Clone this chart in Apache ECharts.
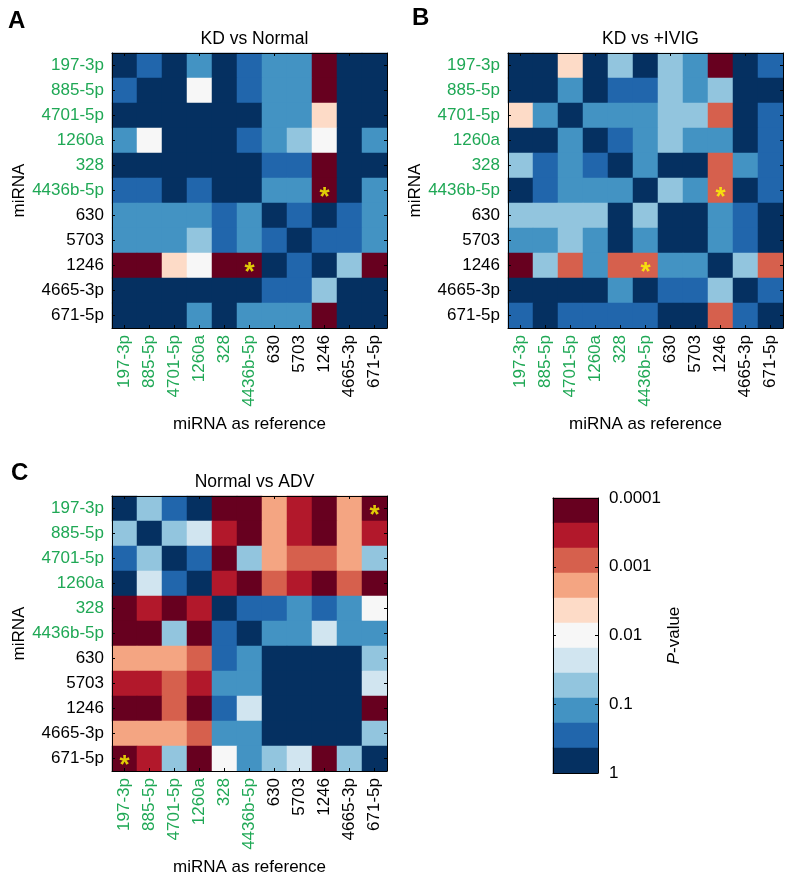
<!DOCTYPE html>
<html>
<head>
<meta charset="utf-8">
<script src="https://cdn.jsdelivr.net/npm/echarts@6/dist/echarts.min.js"></script>
<style>html,body{margin:0;padding:0;background:#fff;}#c{width:787px;height:877px;}</style>
</head>
<body>
<div id="c"></div>
<script>
const mirnas = ['197-3p','885-5p','4701-5p','1260a','328','4436b-5p','630','5703','1246','4665-3p','671-5p'];
const greenCount = 6;
const levelColors = ['#67001f','#b2182b','#d6604d','#f4a582','#fddbc7','#f7f7f7','#d1e5f0','#92c5de','#4393c3','#2166ac','#053061'];
const pTickLabels = ['0.0001','0.001','0.01','0.1','1'];
const panelTitles = ['KD vs Normal','KD vs +IVIG','Normal vs ADV'];
const panelLetters = ['A','B','C'];

// levels 0 (P<=0.0001, dark red) .. 10 (P~1, dark blue); rows = miRNA, cols = reference
const kdNormal = [
  [10,9,10,8,10,9,8,8,0,10,10],
  [9,10,10,5,10,9,8,8,0,10,10],
  [10,10,10,10,10,10,8,8,4,10,10],
  [8,5,10,10,10,9,8,7,5,10,8],
  [10,10,10,10,10,10,9,9,0,10,10],
  [9,9,10,9,10,10,8,8,0,10,8],
  [8,8,8,8,9,8,10,9,10,9,8],
  [8,8,8,7,9,8,9,10,9,9,8],
  [0,0,4,5,0,0,10,9,10,7,0],
  [10,10,10,10,10,10,9,9,7,10,10],
  [10,10,10,8,10,8,8,8,0,10,10]
];
const kdIvig = [
  [10,10,4,10,7,10,7,8,0,10,9],
  [10,10,8,10,9,9,7,8,7,10,10],
  [4,8,10,8,8,8,7,7,2,10,9],
  [10,10,8,10,9,8,7,8,8,10,9],
  [7,9,8,9,10,8,10,10,2,8,9],
  [10,9,8,8,8,10,7,8,2,10,9],
  [7,7,7,7,10,7,10,10,8,9,10],
  [8,8,7,8,10,8,10,10,8,9,10],
  [0,7,2,8,2,2,8,8,10,7,2],
  [10,10,10,10,8,10,9,9,7,10,9],
  [9,10,9,9,9,9,10,10,2,9,10]
];
const normalAdv = [
  [10,7,9,10,0,0,3,1,0,3,0],
  [7,10,7,6,1,0,3,1,0,3,1],
  [9,7,10,9,0,7,3,2,2,3,7],
  [10,6,9,10,1,0,2,1,0,2,0],
  [0,1,0,1,10,9,9,8,9,8,5],
  [0,0,7,0,9,10,8,8,6,8,8],
  [3,3,3,2,9,8,10,10,10,10,7],
  [1,1,2,1,8,8,10,10,10,10,6],
  [0,0,2,0,9,6,10,10,10,10,0],
  [3,3,3,2,8,8,10,10,10,10,7],
  [0,1,7,0,5,8,7,6,0,7,10]
];
// [row, col]
const starsKdNormal = [[5,8],[8,5]];
const starsKdIvig = [[5,8],[8,5]];
const starsNormalAdv = [[0,10],[10,0]];
const colorbarLevels = [0,1,2,3,4,5,6,7,8,9,10];

const FONT = '"Liberation Sans", Arial, Helvetica, sans-serif';
const FS = 17;
const GREEN = '#1fa855';
const matrices = [kdNormal, kdIvig, normalAdv];
const stars = [starsKdNormal, starsKdIvig, starsNormalAdv];
const grids = [
  {left:112, top:53, width:275, height:275},
  {left:508, top:53, width:275, height:275},
  {left:112, top:496, width:275, height:275},
  {left:553, top:498, width:45, height:275}
];
const labelColor = (v, i) => (mirnas.indexOf(v) < greenCount ? GREEN : '#000');

const xAxes = [], yAxes = [], series = [], titles = [];
const tick = {show:true, inside:true, length:3, alignWithLabel:true, lineStyle:{color:'#000', width:1}};
const line = {show:true, onZero:false, lineStyle:{color:'#000', width:1}};

for (let g = 0; g < 3; g++) {
  xAxes.push({gridIndex:g, type:'category', data:mirnas, position:'bottom', z:5,
    axisLine:line, axisTick:tick,
    axisLabel:{rotate:90, margin:7, fontSize:FS, fontFamily:FONT, color:labelColor, interval:0},
    name:'miRNA as reference', nameLocation:'middle', nameGap:88,
    nameTextStyle:{fontSize:FS, fontFamily:FONT, color:'#000'}});
  xAxes.push({gridIndex:g, type:'category', data:mirnas, position:'top', z:5,
    axisLine:line, axisTick:tick, axisLabel:{show:false}});
  yAxes.push({gridIndex:g, type:'category', data:mirnas, inverse:true, position:'left', z:5,
    axisLine:line, axisTick:tick,
    axisLabel:{margin:8, fontSize:FS, fontFamily:FONT, color:labelColor, interval:0},
    name:'miRNA', nameLocation:'middle', nameGap:82,
    nameTextStyle:{fontSize:FS, fontFamily:FONT, color:'#000'}});
  yAxes.push({gridIndex:g, type:'category', data:mirnas, inverse:true, position:'right', z:5,
    axisLine:line, axisTick:tick, axisLabel:{show:false}});

  const m = matrices[g];
  const data = [];
  for (let r = 0; r < m.length; r++) for (let c = 0; c < m[r].length; c++) data.push([c, r, m[r][c]]);
  series.push({type:'heatmap', xAxisIndex:2*g, yAxisIndex:2*g, data:data, z:1,
    itemStyle:{borderWidth:0}, emphasis:{disabled:true}});
  series.push({type:'scatter', xAxisIndex:2*g, yAxisIndex:2*g, z:3,
    data:stars[g].map(s => [s[1], s[0]]), symbolSize:1, itemStyle:{color:'rgba(0,0,0,0)'},
    label:{show:true, position:'inside', formatter:'*', color:'#ffff00', fontSize:26,
      fontWeight:'bold', fontFamily:FONT, offset:[0,7]}});

  const gr = grids[g];
  titles.push({text:panelTitles[g], left:gr.left + gr.width/2, top:gr.top - 28, textAlign:'center',
    textStyle:{fontSize:17.5, fontWeight:'normal', fontFamily:FONT, color:'#000'}});
}
titles.push({text:'A', left:3, top:4, textStyle:{fontSize:24, fontWeight:'bold', fontFamily:FONT, color:'#000'}});
titles.push({text:'B', left:407, top:1, textStyle:{fontSize:24, fontWeight:'bold', fontFamily:FONT, color:'#000'}});
titles.push({text:'C', left:6, top:456, textStyle:{fontSize:24, fontWeight:'bold', fontFamily:FONT, color:'#000'}});

// colorbar grid (index 3)
xAxes.push({gridIndex:3, type:'category', data:['cb'], position:'bottom', z:5, axisLine:line, axisTick:{show:false}, axisLabel:{show:false}});
xAxes.push({gridIndex:3, type:'category', data:['cb'], position:'top', z:5, axisLine:line, axisTick:{show:false}, axisLabel:{show:false}});
yAxes.push({gridIndex:3, type:'category', data:colorbarLevels.map(String), inverse:true, show:false});
yAxes.push({gridIndex:3, type:'value', min:0, max:11, interval:2.75, inverse:true, position:'right', z:5,
  axisLine:line, axisTick:{show:true, inside:true, length:3, lineStyle:{color:'#000'}}, splitLine:{show:false},
  axisLabel:{margin:11, fontSize:FS, fontFamily:FONT, color:'#000', showMinLabel:true, showMaxLabel:true,
    formatter:v => pTickLabels[Math.round(v/2.75)]},
  name:'{i|P}-value', nameLocation:'middle', nameRotate:90, nameGap:68,
  nameTextStyle:{fontSize:FS, fontFamily:FONT, color:'#000', rich:{i:{fontStyle:'italic', fontSize:FS, fontFamily:FONT, color:'#000'}}}});
yAxes.push({gridIndex:3, type:'value', min:0, max:11, interval:2.75, inverse:true, position:'left', z:5,
  axisLine:line, axisTick:{show:true, inside:true, length:3, lineStyle:{color:'#000'}}, splitLine:{show:false},
  axisLabel:{show:false}});
series.push({type:'heatmap', xAxisIndex:6, yAxisIndex:6, z:1,
  data:colorbarLevels.map((l, i) => [0, i, l]), itemStyle:{borderWidth:0}, emphasis:{disabled:true}});

const chart = echarts.init(document.getElementById('c'), null, {renderer:'canvas'});
chart.setOption({
  animation:false,
  backgroundColor:'#fff',
  title:titles,
  grid:grids.map(g => Object.assign({containLabel:false}, g)),
  xAxis:xAxes,
  yAxis:yAxes,
  visualMap:{type:'piecewise', show:false, seriesIndex:[0,2,4,6], dimension:2,
    pieces:levelColors.map((c, i) => ({value:i, color:c}))},
  series:series
});
</script>
</body>
</html>
